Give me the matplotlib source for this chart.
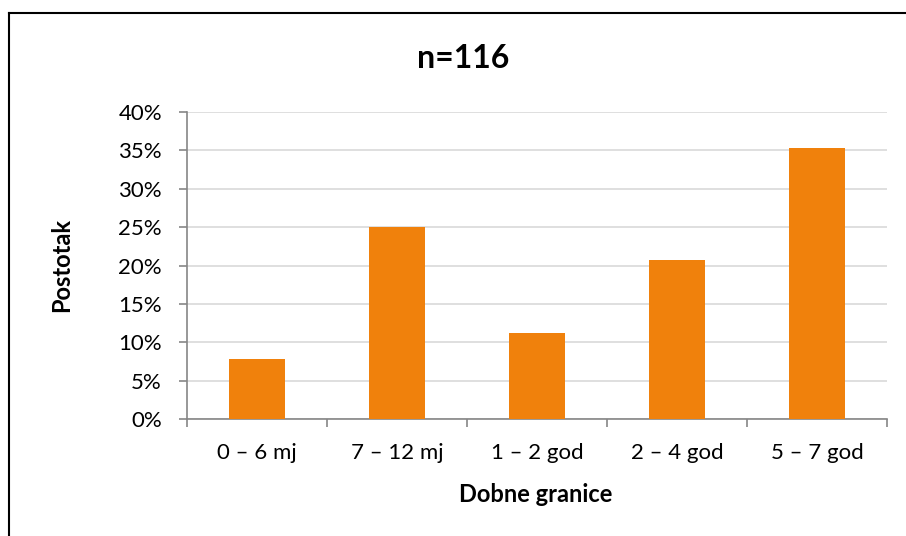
import numpy as np
import matplotlib.pyplot as plt
from matplotlib.lines import Line2D

categories = ["0 – 6 mj", "7 – 12 mj", "1 – 2 god", "2 – 4 god", "5 – 7 god"]
counts = [9, 29, 13, 24, 41]
n_total = 116
values = [c / n_total * 100 for c in counts]

plt.rcParams['font.family'] = ['Lato', 'DejaVu Sans']

fig = plt.figure(figsize=(9.06, 5.36), dpi=100)
ax = fig.add_axes([187 / 906, 1 - 419 / 536, 700 / 906, 307 / 536])

x = np.arange(len(categories))
ax.bar(x, values, width=0.4, color="#F0810C", zorder=3)

ax.set_xlim(-0.5, len(categories) - 0.5)
ax.set_ylim(0, 40)
ax.set_yticks(np.arange(0, 41, 5))
ax.set_yticklabels([f"{v}%" for v in range(0, 41, 5)], fontsize=16)
ax.yaxis.grid(True, color="#d9d9d9", linewidth=1.2, zorder=0)

ax.set_xticks(x)
ax.set_xticklabels(categories, fontsize=16)
ax.tick_params(axis="x", length=0, pad=17)
ax.set_xticks(np.arange(-0.5, len(categories)), minor=True)
ax.tick_params(axis="x", which="minor", length=6, color="#868686", width=1.2)
ax.tick_params(axis="y", length=6, color="#868686", width=1.2, pad=12)

for side in ["top", "right"]:
    ax.spines[side].set_visible(False)
for side in ["left", "bottom"]:
    ax.spines[side].set_color("#868686")
    ax.spines[side].set_linewidth(1.2)

fig.text(463 / 906, 1 - 58 / 536, f"n={n_total}", fontsize=23, fontweight="bold",
         ha="center", va="center")
fig.text(536 / 906, 1 - 494 / 536, "Dobne granice", fontsize=17, fontweight="bold",
         ha="center", va="center")
fig.text(62 / 906, 1 - 265 / 536, "Postotak", fontsize=17, fontweight="bold",
         ha="center", va="center", rotation=90)

# chart frame (only top and left edges visible)
fig.add_artist(Line2D([9 / 906, 9 / 906], [0, 1 - 13 / 536], color="black", linewidth=1.5))
fig.add_artist(Line2D([9 / 906, 1], [1 - 13 / 536, 1 - 13 / 536], color="black", linewidth=1.5))

fig.savefig("out.png", dpi=100)
